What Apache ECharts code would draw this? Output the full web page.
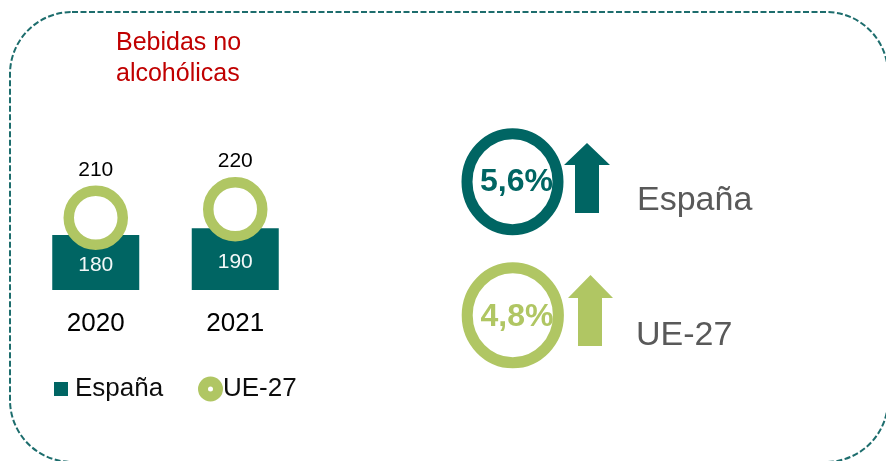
<!DOCTYPE html>
<html>
<head>
<meta charset="utf-8">
<script src="https://cdn.jsdelivr.net/npm/echarts@6/dist/echarts.min.js"></script>
<style>
html,body{margin:0;padding:0;background:#fff;}
#chart{width:886px;height:461px;}
</style>
</head>
<body>
<div id="chart"></div>
<script>
// ---- data ----
const categories = ['2020', '2021'];
const espanaValues = [180, 190];
const ueValues = [210, 220];
const seriesNames = ['España', 'UE-27'];
const kpiNames = ['España', 'UE-27'];
const kpiValues = [5.6, 4.8];
const titleText = 'Bebidas no\nalcohólicas';

// ---- styles ----
const TEAL = '#006563';
const GREEN = '#b0c663';
const FONT = 'Liberation Sans, Arial, sans-serif';

const chart = echarts.init(document.getElementById('chart'), null, {renderer: 'canvas'});

function fmtPct(v) { return v.toFixed(1).replace('.', ',') + '%'; }

const ringIcon = 'path://M12.5,0 A12.5,12.5 0 1,1 12.5,25 A12.5,12.5 0 1,1 12.5,0 Z M12.5,10 A2.5,2.5 0 1,0 12.5,15 A2.5,2.5 0 1,0 12.5,10 Z';

const kpiColors = [TEAL, GREEN];
const kpiGeom = [
  {cx: 512.5, cy: 181.7, rx: 45.5, ry: 48, arrow: [[587,143],[610,165],[599,165],[599,213],[575,213],[575,165],[564,165]], tx: 516.5, ty: 182, lx: 637, ly: 201},
  {cx: 512.8, cy: 315.3, rx: 45.6, ry: 47.5, arrow: [[590.5,275],[613,298],[602,298],[602,346],[578,346],[578,298],[568,298]], tx: 517, ty: 317.5, lx: 636, ly: 335.5}
];

const graphics = [
  {
    type: 'rect', z: 0, silent: true,
    shape: {x: 10, y: 12, width: 878, height: 450, r: 62},
    style: {fill: 'none', stroke: '#1d6d6d', lineWidth: 2, lineDash: [6, 2.5]}
  }
];
kpiNames.forEach(function (name, i) {
  const g = kpiGeom[i];
  graphics.push({
    type: 'ellipse', silent: true,
    shape: {cx: g.cx, cy: g.cy, rx: g.rx, ry: g.ry},
    style: {fill: 'none', stroke: kpiColors[i], lineWidth: 11}
  });
  graphics.push({
    type: 'polygon', silent: true,
    shape: {points: g.arrow},
    style: {fill: kpiColors[i]}
  });
  graphics.push({
    type: 'text', silent: true, x: g.tx, y: g.ty,
    style: {text: fmtPct(kpiValues[i]), fill: kpiColors[i], font: 'bold 32px ' + FONT, align: 'center', verticalAlign: 'middle'}
  });
  graphics.push({
    type: 'text', silent: true, x: g.lx, y: g.ly,
    style: {text: name, fill: '#595959', font: '34px ' + FONT, align: 'left', verticalAlign: 'middle'}
  });
});

const option = {
  animation: false,
  backgroundColor: '#ffffff',
  title: {
    text: titleText,
    left: 116, top: 28,
    padding: 0,
    textStyle: {color: '#c00000', fontSize: 25, lineHeight: 31, fontWeight: 'normal', fontFamily: FONT}
  },
  legend: [
    {
      data: [{name: seriesNames[0], icon: 'rect'}],
      left: 54, top: 376, padding: 0,
      itemWidth: 14, itemHeight: 14,
      textStyle: {fontSize: 26, color: '#0d0d0d', fontFamily: FONT, padding: [0, 0, 0, 2]}
    },
    {
      data: [{name: seriesNames[1], icon: ringIcon}],
      left: 198, top: 376, padding: 0,
      itemWidth: 25, itemHeight: 25,
      itemStyle: {color: GREEN, borderWidth: 0},
      textStyle: {fontSize: 26, color: '#0d0d0d', fontFamily: FONT, padding: [0, 0, 0, -5]}
    }
  ],
  grid: {left: 26, width: 279, top: 103, bottom: 171, containLabel: false},
  xAxis: {
    type: 'category',
    data: categories,
    axisLine: {show: false},
    axisTick: {show: false},
    axisLabel: {fontSize: 26, color: '#000', fontFamily: FONT, margin: 21}
  },
  yAxis: [
    {type: 'value', min: 100, max: 372, show: false, splitLine: {show: false}},
    {type: 'value', min: 125, max: 345, show: false, splitLine: {show: false}}
  ],
  series: [
    {
      name: seriesNames[0],
      type: 'bar',
      data: espanaValues,
      barWidth: 87,
      yAxisIndex: 0,
      itemStyle: {color: TEAL},
      z: 2,
      label: {show: true, position: 'inside', offset: [0, 3], color: '#f2f8f8', fontSize: 21, fontFamily: FONT}
    },
    {
      name: seriesNames[1],
      type: 'scatter',
      data: ueValues,
      yAxisIndex: 1,
      symbol: 'circle',
      symbolSize: 54,
      itemStyle: {color: '#ffffff', borderColor: GREEN, borderWidth: 10.5, opacity: 1},
      z: 3,
      label: {show: true, position: 'top', distance: 5, color: '#000', fontSize: 21, fontFamily: FONT}
    }
  ],
  graphic: graphics
};
chart.setOption(option);
</script>
</body>
</html>
